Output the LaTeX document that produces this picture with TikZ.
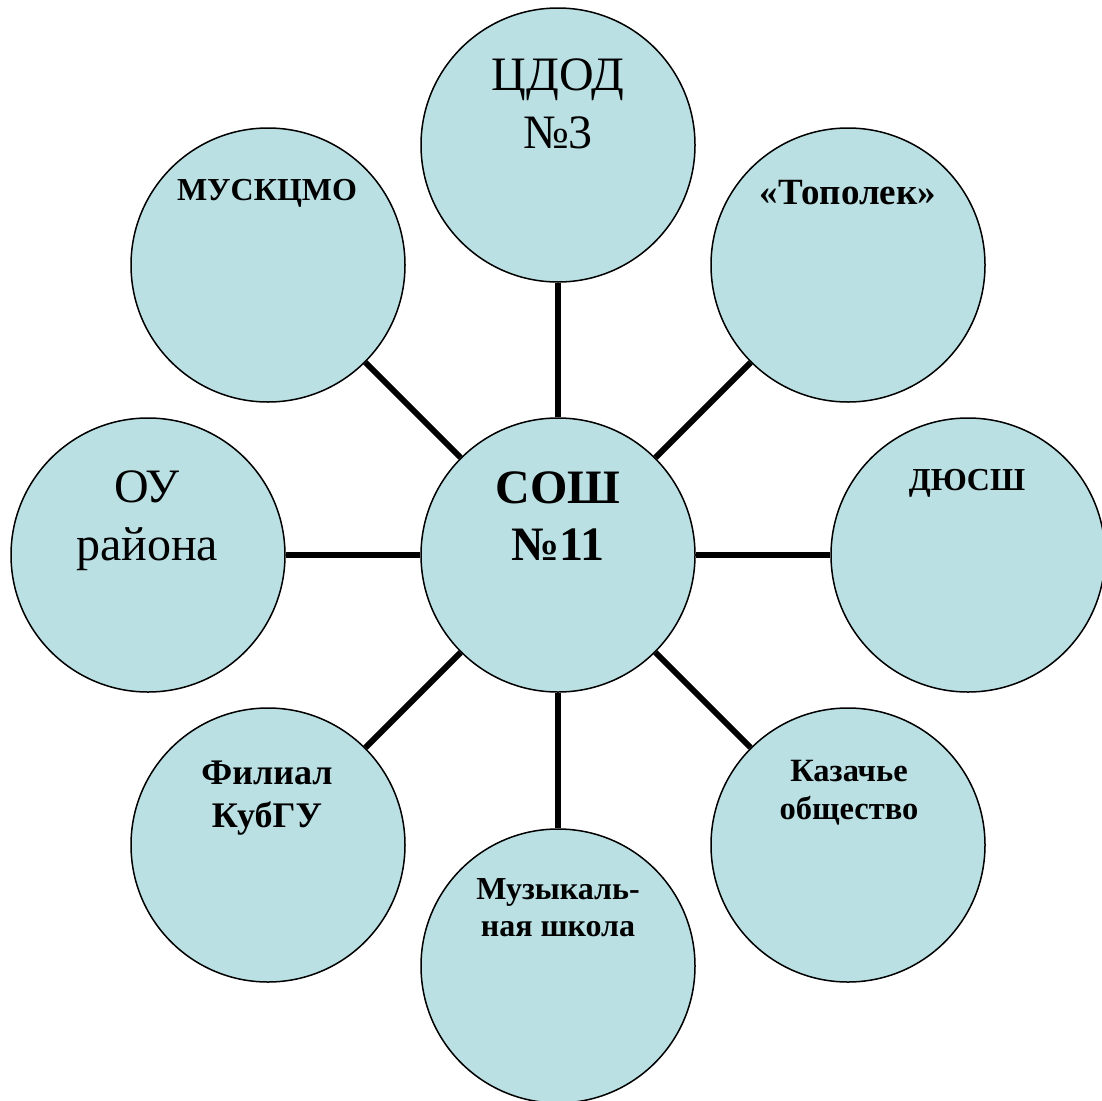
\documentclass[tikz,border=0pt]{standalone}
\usepackage{fontspec}
\setmainfont{Liberation Serif}
\usetikzlibrary{backgrounds}
\definecolor{bubble}{RGB}{186,224,227}
\tikzset{
  bub/.style={circle, draw=black, line width=1.5pt, fill=bubble, minimum size=274pt, inner sep=0pt},
  conn/.style={line width=6pt, draw=black},
  lbl/.style={anchor=north, inner sep=0pt, align=center, text=black},
  big/.style={font=\fontsize{48}{58}\selectfont},
  bigb/.style={font=\fontsize{48}{57}\selectfont\bfseries},
  small/.style={font=\fontsize{32}{43}\selectfont\bfseries}
}
\begin{document}
\begin{tikzpicture}[x=1pt,y=-1pt]
\useasboundingbox (0,0) rectangle (1102,1100);
\node[bub] (c)  at (558,555) {};
\node[bub] (n)  at (558,145) {};
\node[bub] (ne) at (848,265) {};
\node[bub] (e)  at (968,555) {};
\node[bub] (se) at (848,845) {};
\node[bub] (s)  at (558,966) {};
\node[bub] (sw) at (268,845) {};
\node[bub] (w)  at (148,555) {};
\node[bub] (nw) at (268,265) {};
\begin{scope}[on background layer]
\foreach \o in {n,ne,e,se,s,sw,w,nw} \draw[conn] (c) -- (\o);
\end{scope}
\node[lbl,bigb] (tc) at (558,472) {СОШ\\№11};
\node[lbl,big] (tn) at (558,59) {ЦДОД\\№3};
\node[lbl,small,font=\fontsize{37}{43}\selectfont\bfseries] (tne) at (848,180) {«Тополек»};
\node[lbl,small] (te) at (967,469) {ДЮСШ};
\node[lbl,small,font=\fontsize{32.5}{38}\selectfont\bfseries] (tse) at (849,760) {Казачье\\общество};
\node[lbl,small,font=\fontsize{32}{37}\selectfont\bfseries] (ts) at (558,878) {Музыкаль-\\ная школа};
\node[lbl,small,font=\fontsize{36}{43}\selectfont\bfseries] (tsw) at (267,761) {Филиал\\КубГУ};
\node[lbl,big] (tw) at (147,471) {ОУ\\района};
\node[lbl,small,font=\fontsize{32}{40}\selectfont\bfseries] (tnw) at (267,179) {МУСКЦМО};
\end{tikzpicture}
\end{document}
